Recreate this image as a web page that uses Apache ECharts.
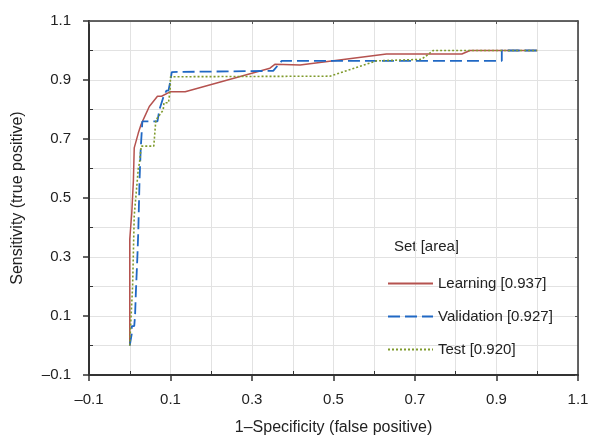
<!DOCTYPE html>
<html>
<head>
<meta charset="utf-8">
<script src="https://cdn.jsdelivr.net/npm/echarts@6/dist/echarts.min.js"></script>
<style>
  html, body { margin: 0; padding: 0; background: #fff; }
  #main { width: 593px; height: 438px; }
</style>
</head>
<body>
<div id="main"></div>
<script>
// ROC curves as [1-specificity, sensitivity]
const learning = [[0,0],[0,0.36],[0.005,0.45],[0.009,0.56],[0.011,0.67],[0.021,0.72],[0.028,0.75],[0.038,0.78],[0.048,0.81],[0.068,0.845],[0.078,0.845],[0.099,0.86],[0.136,0.86],[0.344,0.94],[0.356,0.953],[0.418,0.951],[0.5,0.965],[0.63,0.988],[0.815,0.988],[0.835,1.0],[1,1]];
const validation = [[0,0],[0.005,0.04],[0.005,0.066],[0.011,0.066],[0.013,0.10],[0.015,0.18],[0.019,0.31],[0.021,0.39],[0.024,0.56],[0.027,0.67],[0.031,0.76],[0.068,0.76],[0.073,0.80],[0.082,0.84],[0.090,0.864],[0.095,0.864],[0.1,0.898],[0.103,0.927],[0.352,0.931],[0.373,0.965],[0.913,0.965],[0.913,1.0],[1,1]];
const test = [[0,0],[0.002,0.064],[0.007,0.2],[0.011,0.44],[0.021,0.6],[0.024,0.62],[0.028,0.676],[0.059,0.676],[0.064,0.764],[0.082,0.798],[0.084,0.823],[0.095,0.823],[0.099,0.864],[0.1,0.911],[0.491,0.913],[0.606,0.965],[0.716,0.97],[0.745,1.0],[1,1]];
const seriesNames = ['Learning [0.937]', 'Validation [0.927]', 'Test [0.920]'];
const axisMin = -0.1, axisMax = 1.1, axisStep = 0.2;

const font = 'Liberation Sans, Arial, sans-serif';
const fmt = v => v.toFixed(1).replace('-', '\u2013');

const gridLine = {show: true, lineStyle: {color: '#e2e2e2', width: 1}};

function mainAxis(name, gap, rotate, margin) {
  return {
    type: 'value', min: axisMin, max: axisMax, interval: axisStep,
    name: name, nameLocation: 'middle', nameGap: gap, nameRotate: rotate,
    nameTextStyle: {fontFamily: font, fontSize: 16, color: '#222'},
    axisLine: {show: true, onZero: false, lineStyle: {color: '#333', width: 2}},
    axisTick: {show: true, length: 6, lineStyle: {color: '#333', width: 1.5}},
    minorTick: {show: true, splitNumber: 2, length: -4, lineStyle: {color: '#333', width: 1}},
    axisLabel: {fontFamily: font, fontSize: 15, color: '#222', margin: margin, formatter: fmt},
    splitLine: gridLine,
    minorSplitLine: gridLine
  };
}
function frameAxis(pos) {
  return {
    type: 'value', min: axisMin, max: axisMax, interval: axisStep, position: pos,
    axisLine: {show: true, onZero: false, lineStyle: {color: '#333', width: 1.5}},
    axisTick: {show: true, inside: true, length: 3, lineStyle: {color: '#555'}},
    axisLabel: {show: false},
    splitLine: {show: false}
  };
}

const chart = echarts.init(document.getElementById('main'));
chart.setOption({
  animation: false,
  grid: {left: 89, right: 15, top: 21, bottom: 63, containLabel: false, outerBoundsMode: 'none'},
  xAxis: [mainAxis('1\u2013Specificity (false positive)', 45, 0, 17), frameAxis('top')],
  yAxis: [mainAxis('Sensitivity (true positive)', 63, 90, 18), frameAxis('right')],
  legend: {
    orient: 'vertical', left: 382, top: 271, itemGap: 18,
    itemWidth: 45, itemHeight: 10,
    itemStyle: {color: 'rgba(0,0,0,0)', borderColor: 'rgba(0,0,0,0)', borderWidth: 0},
    textStyle: {fontFamily: font, fontSize: 15, color: '#222'},
    data: seriesNames
  },
  graphic: [{
    type: 'text', left: 394, top: 239,
    style: {text: 'Set [area]', font: '15px ' + font, fill: '#222'}
  }],
  series: [
    {name: seriesNames[0], type: 'line', data: learning, symbol: 'none',
     lineStyle: {color: '#b5524f', width: 1.5}, itemStyle: {color: '#b5524f'}},
    {name: seriesNames[1], type: 'line', data: validation, symbol: 'none',
     lineStyle: {color: '#2068c4', width: 1.8, type: [12, 5]}, itemStyle: {color: '#2068c4'}},
    {name: seriesNames[2], type: 'line', data: test, symbol: 'none',
     lineStyle: {color: '#7f9a2c', width: 1.6, type: [2, 2]}, itemStyle: {color: '#7f9a2c'}}
  ]
});
</script>
</body>
</html>
